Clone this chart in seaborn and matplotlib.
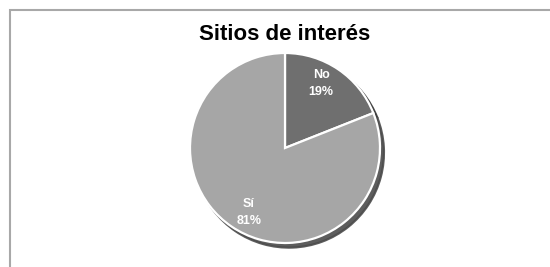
import matplotlib
matplotlib.use('Agg')
import numpy as np
import matplotlib.pyplot as plt
import matplotlib.patches as mpatches
import seaborn as sns

# Data
categories = ['No', 'Sí']
shares = [19, 81]
slice_colors = ['#6f6f6f', '#a6a6a6']
title = 'Sitios de interés'

sns.set_style('white')
plt.rcParams['font.family'] = ['Liberation Sans', 'DejaVu Sans']

fig = plt.figure(figsize=(5.5, 2.67), dpi=100)
fig.patch.set_facecolor('white')

# chart frame (only top and left edges visible in the crop)
frame = mpatches.Rectangle((9.5 / 550, -0.2), 1.2, 1.2 - 9.5 / 267,
                           transform=fig.transFigure, fill=False,
                           edgecolor='#a8a8a8', linewidth=1.5, clip_on=False)
fig.patches.append(frame)

# pie axes: centre (285,148) px, radius 95 px
lim = 1.06
r_px = 95 * lim
ax = fig.add_axes([(285 - r_px) / 550, (267 - 148 - r_px) / 267,
                   2 * r_px / 550, 2 * r_px / 267])

wedges, texts, autotexts = ax.pie(
    shares, colors=slice_colors, startangle=90, counterclock=False,
    autopct='%1.0f%%', pctdistance=0.78,
    wedgeprops=dict(edgecolor='white', linewidth=1.6),
    shadow=dict(ox=0.03, oy=-0.035, shade=0.55, alpha=0.9),
)
# labels sit a little counter-clockwise of the slice middles
rot = np.deg2rad(5)
for t, lab in zip(autotexts, categories):
    x, y = t.get_position()
    t.set_position((x * np.cos(rot) - y * np.sin(rot),
                    x * np.sin(rot) + y * np.cos(rot)))
    t.set_text(f'{lab}\n{t.get_text()}')
    t.set_color('white')
    t.set_fontweight('bold')
    t.set_fontsize(9)
    t.set_linespacing(1.6)
ax.set_xlim(-lim, lim)
ax.set_ylim(-lim, lim)
ax.set_aspect('equal')
ax.axis('off')

fig.text(285 / 550, 1 - 35 / 267, title, ha='center', va='center',
         fontsize=16, fontweight='bold', color='black')

fig.savefig('out.png', dpi=100)
